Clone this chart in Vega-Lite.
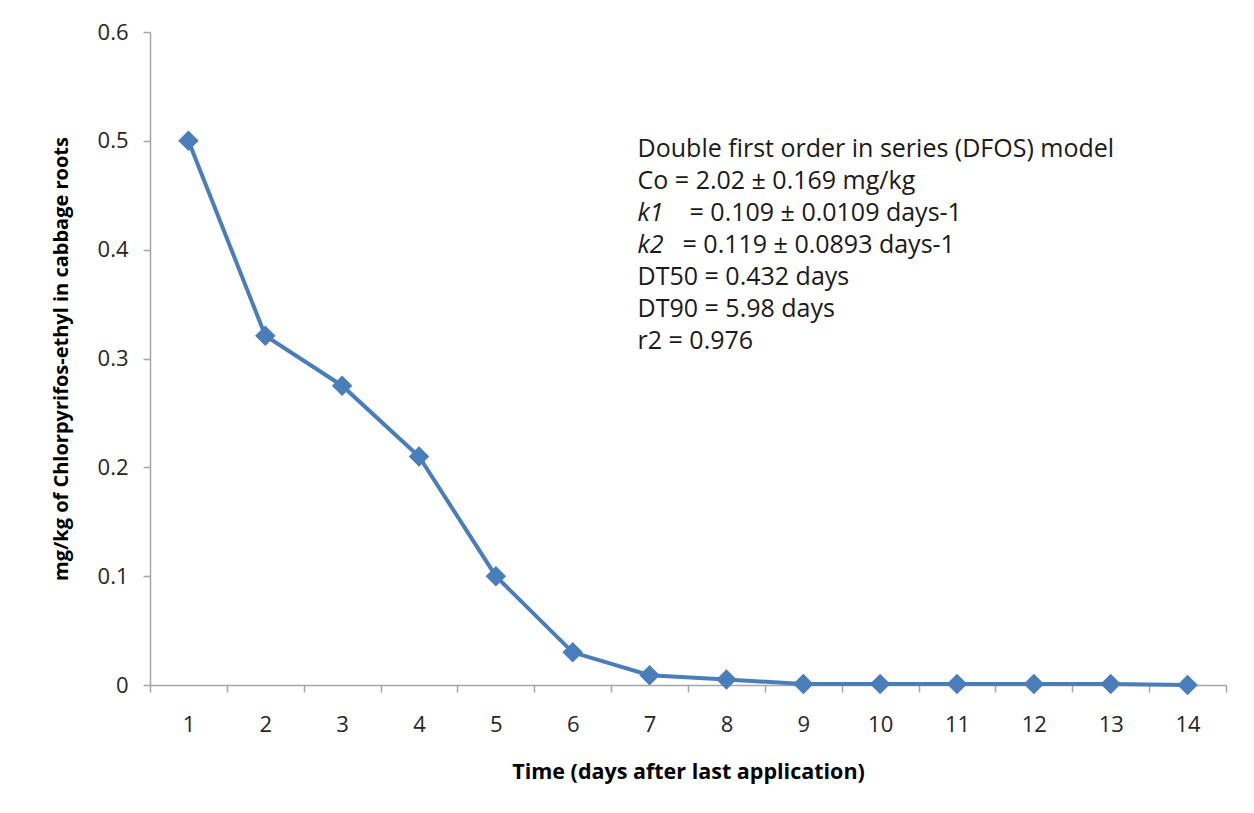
{
  "$schema": "https://vega.github.io/schema/vega-lite/v6.json",
  "width": 1076,
  "height": 653,
  "autosize": {"type": "none"},
  "padding": {"left": 150, "top": 32, "right": 28, "bottom": 128},
  "background": "white",
  "config": {
    "view": {"stroke": null},
    "font": "Open Sans",
    "axis": {"domainColor": "#a6a6a6", "tickColor": "#a6a6a6", "domainWidth": 1.5, "tickWidth": 1.5, "labelColor": "#262626", "titleColor": "#000000", "grid": false, "labelFont": "Open Sans", "titleFont": "Open Sans"}
  },
  "datasets": {
    "residues": [
      {"day": "1", "residue": 0.5},
      {"day": "2", "residue": 0.321},
      {"day": "3", "residue": 0.275},
      {"day": "4", "residue": 0.21},
      {"day": "5", "residue": 0.1},
      {"day": "6", "residue": 0.03},
      {"day": "7", "residue": 0.009},
      {"day": "8", "residue": 0.005},
      {"day": "9", "residue": 0.001},
      {"day": "10", "residue": 0.001},
      {"day": "11", "residue": 0.001},
      {"day": "12", "residue": 0.001},
      {"day": "13", "residue": 0.001},
      {"day": "14", "residue": 0.0}
    ],
    "notes": [
      {"part": "main", "label": "Double first order  in series (DFOS) model", "yv": 0.4925},
      {"part": "main", "label": "Co = 2.02 ± 0.169 mg/kg", "yv": 0.4631},
      {"part": "ital", "label": "k1", "yv": 0.4337},
      {"part": "rest", "label": "= 0.109 ± 0.0109 days-1", "yv": 0.4337},
      {"part": "ital", "label": "k2", "yv": 0.4043},
      {"part": "rest2", "label": "=  0.119 ± 0.0893 days-1", "yv": 0.4043},
      {"part": "main", "label": "DT50 = 0.432 days", "yv": 0.3749},
      {"part": "main", "label": "DT90 = 5.98 days", "yv": 0.3455},
      {"part": "main", "label": "r2 = 0.976", "yv": 0.3161}
    ]
  },
  "layer": [
    {
      "data": {"name": "residues"},
      "mark": {"type": "line", "color": "#4a7ebb", "strokeWidth": 4, "point": {"shape": "diamond", "size": 420, "filled": true, "color": "#4a7ebb", "opacity": 1}},
      "encoding": {
        "x": {
          "field": "day", "type": "ordinal", "sort": null, "bandPosition": 0.5,
          "scale": {"type": "band", "paddingInner": 0, "paddingOuter": 0},
          "axis": {"title": "Time (days after last application)", "labelAngle": 0, "tickBand": "extent", "tickSize": 7, "labelFontSize": 22, "labelPadding": 22, "titleFontSize": 21.5, "titleFontWeight": "bold", "titlePadding": 26}
        },
        "y": {
          "field": "residue", "type": "quantitative",
          "scale": {"domain": [0, 0.6], "nice": false},
          "axis": {"title": "mg/kg of Chlorpyrifos-ethyl in cabbage roots", "values": [0, 0.1, 0.2, 0.3, 0.4, 0.5, 0.6], "format": "~g", "tickSize": 7, "labelFontSize": 22, "labelPadding": 15, "titleFontSize": 20, "titleFontWeight": "bold", "titlePadding": 26}
        }
      }
    },
    {
      "data": {"name": "notes"},
      "transform": [{"filter": "datum.part === 'main'"}],
      "mark": {"type": "text", "align": "left", "baseline": "middle", "dx": -12, "fontSize": 25, "color": "#1a1a1a"},
      "encoding": {
        "x": {"datum": "7", "type": "ordinal", "bandPosition": 0.5},
        "y": {"field": "yv", "type": "quantitative"},
        "text": {"field": "label"}
      }
    },
    {
      "data": {"name": "notes"},
      "transform": [{"filter": "datum.part === 'ital'"}],
      "mark": {"type": "text", "align": "left", "baseline": "middle", "dx": -12, "fontSize": 25, "fontStyle": "italic", "color": "#1a1a1a"},
      "encoding": {
        "x": {"datum": "7", "type": "ordinal", "bandPosition": 0.5},
        "y": {"field": "yv", "type": "quantitative"},
        "text": {"field": "label"}
      }
    },
    {
      "data": {"name": "notes"},
      "transform": [{"filter": "datum.part === 'rest'"}],
      "mark": {"type": "text", "align": "left", "baseline": "middle", "dx": 40, "fontSize": 25, "color": "#1a1a1a"},
      "encoding": {
        "x": {"datum": "7", "type": "ordinal", "bandPosition": 0.5},
        "y": {"field": "yv", "type": "quantitative"},
        "text": {"field": "label"}
      }
    },
    {
      "data": {"name": "notes"},
      "transform": [{"filter": "datum.part === 'rest2'"}],
      "mark": {"type": "text", "align": "left", "baseline": "middle", "dx": 33, "fontSize": 25, "color": "#1a1a1a"},
      "encoding": {
        "x": {"datum": "7", "type": "ordinal", "bandPosition": 0.5},
        "y": {"field": "yv", "type": "quantitative"},
        "text": {"field": "label"}
      }
    }
  ]
}
